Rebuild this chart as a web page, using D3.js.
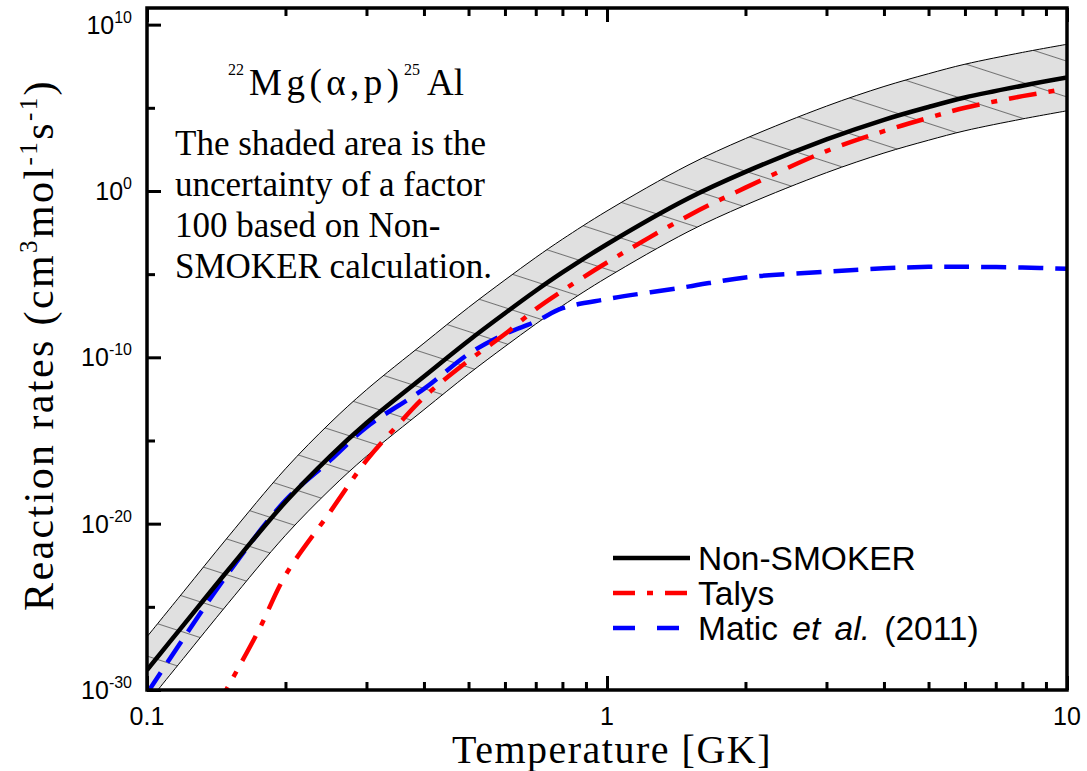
<!DOCTYPE html>
<html lang="en">
<head>
<meta charset="utf-8">
<title>22Mg(a,p)25Al reaction rates</title>
<script src="https://cdn.jsdelivr.net/npm/d3@7"></script>
<style>
  body { margin: 0; background: #fff; }
  svg { display: block; }
  .serif { font-family: "Liberation Serif", "Times New Roman", serif; }
  .sans { font-family: "Liberation Sans", Arial, sans-serif; }
</style>
</head>
<body>
<script>
// temperature grid [GK]
var temps = [0.1, 0.12, 0.15, 0.2, 0.25, 0.3, 0.4, 0.5, 0.6, 0.7, 0.8, 1, 1.5, 2, 3, 4, 5, 6, 8, 10];
// log10 of the rates (cm3 mol-1 s-1)
var nonSmokerLog = [-28.8, -26.1, -22.8, -18.7, -15.95, -13.95, -11.15, -9.0, -7.35, -6.0, -4.9, -3.2, -0.45, 1.15, 3.1, 4.28, 5.05, 5.62, 6.33, 6.82];
var maticLog = [-30.2, -26.9, -23.0, -18.6, -16.2, -14.2, -11.9, -9.8, -8.6, -7.85, -7.05, -6.5, -5.75, -5.2, -4.85, -4.65, -4.56, -4.56, -4.6, -4.68];
var talysTemps = [0.14, 0.15, 0.175, 0.2, 0.25, 0.3, 0.35, 0.4, 0.5, 0.6, 0.7, 0.8, 1, 1.5, 2, 3, 4, 5, 6, 8, 10];
var talysLog = [-31.3, -29.8, -26.4, -23.1, -19.3, -16.2, -14.1, -12.4, -10.2, -8.6, -7.1, -6.0, -4.3, -1.5, 0.2, 2.4, 3.6, 4.4, 5.0, 5.7, 6.15];
var bandFactor = 100;

var xMajor = [0.1, 1, 10];
var xMinor = [0.2, 0.3, 0.4, 0.5, 0.6, 0.7, 0.8, 0.9, 2, 3, 4, 5, 6, 7, 8, 9];
var yMajorExp = [-30, -20, -10, 0, 10];
var yMinorExp = [-25, -15, -5, 5];
var legendNames = ["Non-SMOKER", "Talys", "Matic"];

var w = 1087, h = 771;
var pLeft = 147, pRight = 1067, pTop = 8, pBottom = 690;

var svg = d3.select("body").append("svg")
    .attr("width", w)
    .attr("height", h);

var x = d3.scaleLog().domain([0.1, 10]).range([pLeft, pRight]);
var y = d3.scaleLog().domain([1e-30, 1e11]).range([pBottom, pTop]);

function pts(ts, logs) {
  return ts.map(function(t, i) { return {t: t, v: Math.pow(10, logs[i])}; });
}
var black = pts(temps, nonSmokerLog);
var red = pts(talysTemps, talysLog);
var blue = pts(temps, maticLog);

var defs = svg.append("defs");
defs.append("clipPath").attr("id", "plot")
  .append("rect")
    .attr("x", pLeft).attr("y", pTop)
    .attr("width", pRight - pLeft).attr("height", pBottom - pTop);

var pat = defs.append("pattern")
    .attr("id", "hatch")
    .attr("patternUnits", "userSpaceOnUse")
    .attr("width", 200).attr("height", 34)
    .attr("patternTransform", "rotate(18)");
pat.append("rect").attr("width", 200).attr("height", 34).attr("fill", "#e0e0e0");
pat.append("line")
    .attr("x1", 0).attr("x2", 200).attr("y1", 0.5).attr("y2", 0.5)
    .attr("stroke", "#555").attr("stroke-width", 0.8);

var g = svg.append("g").attr("clip-path", "url(#plot)");
var smooth = d3.curveCatmullRom.alpha(0.5);

// uncertainty band (factor 100 around Non-SMOKER)
var area = d3.area()
    .x(function(d) { return x(d.t); })
    .y0(function(d) { return y(d.v / bandFactor); })
    .y1(function(d) { return y(d.v * bandFactor); })
    .curve(smooth);
g.append("path").datum(black)
    .attr("d", area)
    .attr("fill", "url(#hatch)");

var line = d3.line()
    .x(function(d) { return x(d.t); })
    .y(function(d) { return y(d.v); })
    .curve(smooth);

[bandFactor, 1 / bandFactor].forEach(function(f) {
  g.append("path")
    .datum(black.map(function(d) { return {t: d.t, v: d.v * f}; }))
    .attr("d", line)
    .attr("fill", "none")
    .attr("stroke", "#000")
    .attr("stroke-width", 1);
});

g.append("path").datum(blue)
    .attr("d", line)
    .attr("fill", "none")
    .attr("stroke", "#0000ff")
    .attr("stroke-width", 4.5)
    .attr("stroke-dasharray", "25,12");

g.append("path").datum(red)
    .attr("d", line)
    .attr("fill", "none")
    .attr("stroke", "#ff0000")
    .attr("stroke-width", 4.5)
    .attr("stroke-dasharray", "28,12,6,12");

g.append("path").datum(black)
    .attr("d", line)
    .attr("fill", "none")
    .attr("stroke", "#000")
    .attr("stroke-width", 4.5);

// ticks (inward)
function ticks(axis, vals, size, tr) {
  var a = svg.append("g")
      .attr("transform", tr)
      .call(axis.tickValues(vals).tickSize(size).tickFormat(""));
  a.select(".domain").remove();
  a.selectAll(".tick line").attr("stroke", "#000").attr("stroke-width", 3);
}
ticks(d3.axisBottom(x), xMajor, -14, "translate(0," + pBottom + ")");
ticks(d3.axisBottom(x), xMinor, -8, "translate(0," + pBottom + ")");
ticks(d3.axisTop(x), xMajor, -14, "translate(0," + pTop + ")");
ticks(d3.axisTop(x), xMinor, -8, "translate(0," + pTop + ")");
ticks(d3.axisLeft(y), yMajorExp.map(function(e) { return Math.pow(10, e); }), -14, "translate(" + pLeft + ",0)");
ticks(d3.axisLeft(y), yMinorExp.map(function(e) { return Math.pow(10, e); }), -8, "translate(" + pLeft + ",0)");

// frame
svg.append("rect")
    .attr("x", pLeft).attr("y", pTop)
    .attr("width", pRight - pLeft).attr("height", pBottom - pTop)
    .attr("fill", "none")
    .attr("stroke", "#000")
    .attr("stroke-width", 3.5);

// tick labels
xMajor.forEach(function(t) {
  svg.append("text").attr("class", "sans")
    .attr("x", x(t)).attr("y", 725)
    .attr("text-anchor", "middle")
    .style("font-size", "25px")
    .text(t);
});
yMajorExp.forEach(function(e) {
  var t = svg.append("text").attr("class", "sans")
    .attr("x", 132).attr("y", y(Math.pow(10, e)) + 9)
    .attr("text-anchor", "end")
    .style("font-size", "25px");
  t.append("tspan").text("10");
  t.append("tspan").attr("dy", -11).style("font-size", "16px").text(e);
});

// axis titles
svg.append("text").attr("class", "serif")
    .attr("x", 612).attr("y", 763)
    .attr("text-anchor", "middle")
    .style("font-size", "40px")
    .style("letter-spacing", "1.5px")
    .text("Temperature [GK]");

var yt = svg.append("text").attr("class", "serif")
    .attr("transform", "translate(53,345) rotate(-90)")
    .attr("text-anchor", "middle")
    .style("font-size", "42px")
    .style("letter-spacing", "2.4px");
yt.append("tspan").text("Reaction rates (cm");
yt.append("tspan").attr("dy", -16).style("font-size", "25px").text("3");
yt.append("tspan").attr("dy", 16).text("mol");
yt.append("tspan").attr("dy", -16).style("font-size", "25px").text("-1");
yt.append("tspan").attr("dy", 16).text("s");
yt.append("tspan").attr("dy", -16).style("font-size", "25px").text("-1");
yt.append("tspan").attr("dy", 16).text(")");

// reaction label
var title = svg.append("text").attr("class", "serif").attr("y", 95).style("font-size", "37px");
title.append("tspan").attr("x", 228).attr("dy", -20).style("font-size", "16px").text("22");
title.append("tspan").attr("x", 249).attr("dy", 20).style("letter-spacing", "4.5px").text("Mg(\u03b1,p)");
title.append("tspan").attr("x", 404).attr("dy", -20).style("font-size", "16px").text("25");
title.append("tspan").attr("x", 427).attr("dy", 20).text("Al");

var note = ["The shaded area is the", "uncertainty of a factor", "100 based on Non-", "SMOKER calculation."];
note.forEach(function(s, i) {
  svg.append("text").attr("class", "serif")
    .attr("x", 175).attr("y", 155 + i * 41)
    .style("font-size", "35px")
    .text(s);
});

// legend
var leg = [
  {dash: null, color: "#000"},
  {dash: "22,12,6,12", color: "#ff0000"},
  {dash: "22,22", color: "#0000ff"}
];
leg.forEach(function(l, i) {
  var ly = 558 + i * 35;
  svg.append("line")
    .attr("x1", 613).attr("x2", 690).attr("y1", ly).attr("y2", ly)
    .attr("stroke", l.color).attr("stroke-width", 4.5)
    .attr("stroke-dasharray", l.dash);
  var t = svg.append("text").attr("class", "sans")
    .attr("x", 698).attr("y", ly + 12)
    .style("font-size", "33.5px");
  if (i < 2) {
    t.text(legendNames[i]);
  } else {
    t.style("word-spacing", "5px");
    t.append("tspan").text(legendNames[i] + " ");
    t.append("tspan").style("font-style", "italic").text("et al.");
    t.append("tspan").text(" (2011)");
  }
});
</script>
</body>
</html>
